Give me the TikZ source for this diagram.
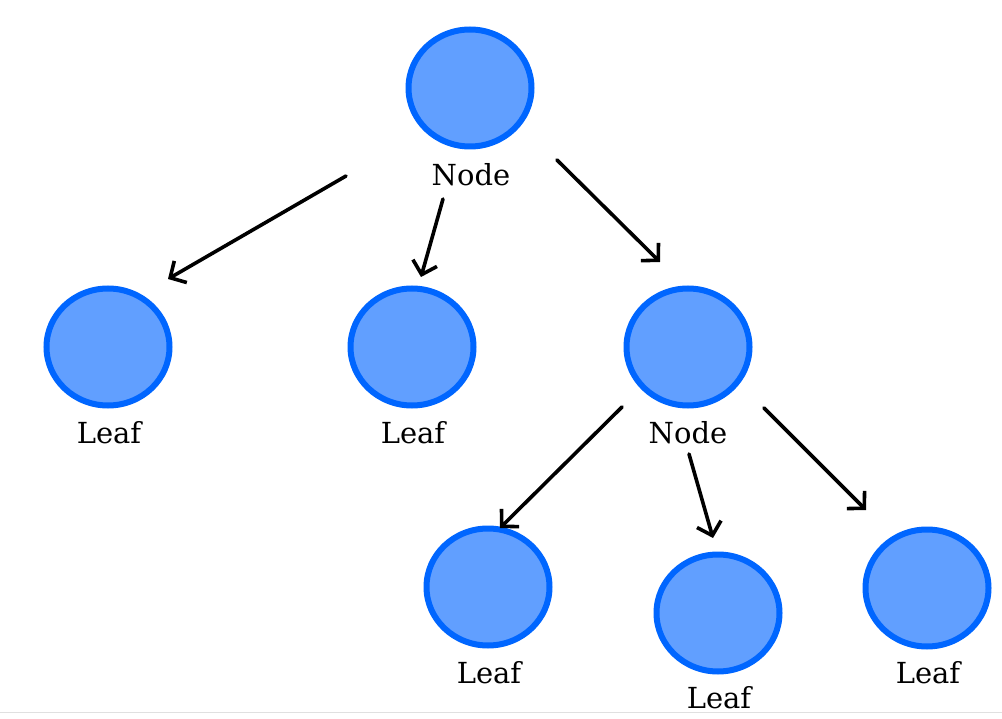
\documentclass[tikz,border=0pt]{standalone}
\usepackage{fontspec}
\setmainfont{DejaVu Serif}
\usetikzlibrary{shapes.geometric,arrows.meta}
\definecolor{ringblue}{RGB}{0,102,255}
\definecolor{fillblue}{RGB}{97,159,255}
\tikzset{
  treenode/.style={ellipse, draw=ringblue, fill=fillblue, line width=6pt,
    minimum width=123pt, minimum height=117pt, inner sep=0pt},
  lbl/.style={font=\fontsize{29}{34}\selectfont, text=black, inner sep=0pt},
  arr/.style={line width=3.6pt, line cap=round,
    -{Straight Barb[length=12pt,width=25pt,line width=3.6pt]}}
}
\begin{document}
\begin{tikzpicture}[x=1pt,y=-1pt]
\useasboundingbox (0,0) rectangle (1002,719);
\fill[white] (0,0) rectangle (1002,719);
\draw[black!12, line width=0.8pt] (0,712) -- (1002,712);

\node[treenode] (n0) at (470,88) {};
\node[treenode] (l1) at (108,347) {};
\node[treenode] (l2) at (412,347) {};
\node[treenode] (n1) at (688,347) {};
\node[treenode] (l3) at (488,587) {};
\node[treenode] (l4) at (718,613) {};
\node[treenode] (l5) at (927,588) {};

\node[lbl] (t0) at (471,175) {Node};
\node[lbl] (t1) at (109,433) {Leaf};
\node[lbl] (t2) at (413,433) {Leaf};
\node[lbl] (t3) at (688,433) {Node};
\node[lbl] (t4) at (489,673) {Leaf};
\node[lbl] (t5) at (719,698) {Leaf};
\node[lbl] (t6) at (928,673) {Leaf};

\coordinate (a1s) at (346,176); \coordinate (a1e) at (168,279);
\coordinate (a2s) at (443,199); \coordinate (a2e) at (421,277);
\coordinate (a3s) at (557,160); \coordinate (a3e) at (660,262);
\coordinate (a4s) at (622,407); \coordinate (a4e) at (500,528);
\coordinate (a5s) at (689,454); \coordinate (a5e) at (713,538);
\coordinate (a6s) at (764,408); \coordinate (a6e) at (866,510);

\draw[arr] (a1s) -- (a1e);
\draw[arr] (a2s) -- (a2e);
\draw[arr] (a3s) -- (a3e);
\draw[arr] (a4s) -- (a4e);
\draw[arr] (a5s) -- (a5e);
\draw[arr] (a6s) -- (a6e);
\end{tikzpicture}
\end{document}
